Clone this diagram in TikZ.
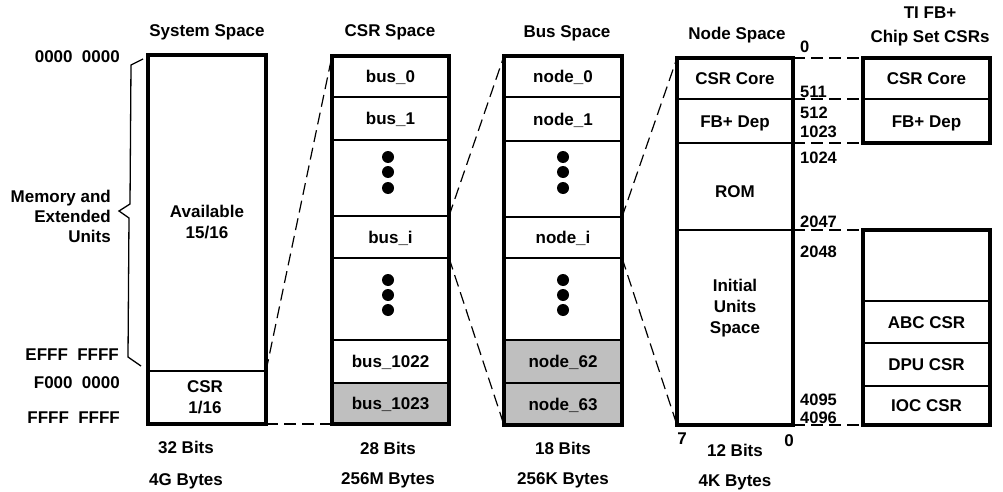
\documentclass[tikz,border=0pt]{standalone}
\usepackage{fontspec}
\setmainfont{Liberation Sans}
\usetikzlibrary{fit}
\newcommand\gap{\hspace{0.55em}}
\begin{document}
\begin{tikzpicture}[x=1pt,y=-1pt,
  lbl/.style={font=\bfseries\fontsize{17}{21}\selectfont, inner sep=0pt, align=center},
  addr/.style={lbl, anchor=east},
  num/.style={font=\bfseries\fontsize{16.5}{19}\selectfont, inner sep=0pt, anchor=west},
  celltxt/.style={font=\bfseries\fontsize{17}{22}\selectfont, inner sep=0pt,
                  text height=12.3pt, text depth=0pt},
  cell/.style={draw, line width=2.4pt, inner sep=0pt, outer sep=0pt},
  shaded/.style={cell, fill=black!25},
  tag/.style={label={[celltxt]center:#1}},
  frame/.style={draw, line width=3.2pt, inner sep=0pt, outer sep=0pt},
  dot/.style={circle, fill, inner sep=0pt, minimum size=12pt},
  link/.style={line width=1.2pt, dash pattern=on 12pt off 6pt},
]
\useasboundingbox (0,0) rectangle (1003,492);

% ---------------- System space ----------------
\node[lbl] (tsys) at (207,32) {System Space};
\node[cell, fit={(148,55) (266,371)}] (avail) {};
\node[lbl] (availtxt) at (207,222) {Available\\15/16};
\node[cell, fit={(148,371) (266,424)}] (syscsr) {};
\node[lbl] (syscsrtxt) at (205,397) {CSR\\1/16};
\node[frame, fit=(avail)(syscsr)] (sysframe) {};

\node[addr] (a0) at (120,57) {0000\gap0000};
\node[addr] (a1) at (119,355) {EFFF\gap FFFF};
\node[addr] (a2) at (120,383) {F000\gap0000};
\node[addr] (a3) at (120,418) {FFFF\gap FFFF};

% brace spanning the memory and extended units range
\coordinate (b1) at (143,59);
\coordinate (b2) at (131,65);
\coordinate (b3) at (130,204);
\coordinate (b4) at (119,211);
\coordinate (b5) at (129,218);
\coordinate (b6) at (128,357);
\coordinate (b7) at (141,366);
\draw[line width=1.3pt, line join=miter] (b1) -- (b2) -- (b3) -- (b4) -- (b5) -- (b6) -- (b7);
\node[lbl, align=right, anchor=east, font=\bfseries\fontsize{17}{20}\selectfont] (memtxt) at (111,216) {Memory and\\Extended\\Units};

\node[lbl] (sbits) at (186,447) {32 Bits};
\node[lbl] (sbytes) at (186,481) {4G Bytes};

% ---------------- CSR space ----------------
\node[lbl] (tcsr) at (390,32) {CSR Space};
\node[cell, tag=bus\_0, fit={(332,56) (449,97)}] (bus0) {};
\node[cell, tag=bus\_1, fit={(332,97) (449,140)}] (bus1) {};
\node[cell, fit={(332,140) (449,216)}] (busd1) {};
\node[cell, tag=bus\_i, fit={(332,216) (449,258)}] (busi) {};
\node[cell, fit={(332,258) (449,340)}] (busd2) {};
\node[cell, tag=bus\_1022, fit={(332,340) (449,383)}] (bus1022) {};
\node[shaded, tag=bus\_1023, fit={(332,383) (449,424)}] (bus1023) {};
\node[frame, fit=(bus0)(bus1023)] (csrframe) {};
\node[dot] (cd1) at (388,157) {};
\node[dot] (cd2) at (388,172) {};
\node[dot] (cd3) at (388,188) {};
\node[dot] (cd4) at (388,280) {};
\node[dot] (cd5) at (388,295) {};
\node[dot] (cd6) at (388,310) {};
\node[lbl] (cbits) at (388,448) {28 Bits};
\node[lbl] (cbytes) at (388,480) {256M Bytes};

% ---------------- Bus space ----------------
\node[lbl] (tbus) at (567,33) {Bus Space};
\node[cell, tag=node\_0, fit={(504,56) (622,97)}] (node0) {};
\node[cell, tag=node\_1, fit={(504,97) (622,141)}] (node1) {};
\node[cell, fit={(504,141) (622,217)}] (noded1) {};
\node[cell, tag=node\_i, fit={(504,217) (622,258)}] (nodei) {};
\node[cell, fit={(504,258) (622,340)}] (noded2) {};
\node[shaded, tag=node\_62, fit={(504,340) (622,383)}] (node62) {};
\node[shaded, tag=node\_63, fit={(504,383) (622,425)}] (node63) {};
\node[frame, fit=(node0)(node63)] (busframe) {};
\node[dot] (bd1) at (563,157) {};
\node[dot] (bd2) at (563,172) {};
\node[dot] (bd3) at (563,188) {};
\node[dot] (bd4) at (563,280) {};
\node[dot] (bd5) at (563,295) {};
\node[dot] (bd6) at (563,310) {};
\node[lbl] (bbits) at (563,448) {18 Bits};
\node[lbl] (bbytes) at (563,480) {256K Bytes};

% ---------------- Node space ----------------
\node[lbl] (tnode) at (737,35) {Node Space};
\node[cell, tag=CSR Core, fit={(677,58) (793,99)}] (core) {};
\node[cell, tag=FB+ Dep, fit={(677,99) (793,143)}] (fbdep) {};
\node[cell, fit={(677,143) (793,230)}] (rom) {};
\node[celltxt] (romtxt) at (735,191) {ROM};
\node[cell, fit={(677,230) (793,425)}] (initial) {};
\node[lbl] (inittxt) at (735,308) {Initial\\Units\\Space};
\node[frame, fit=(core)(initial)] (nodeframe) {};

\node[num] (n0) at (800,47) {0};
\node[num] (n511) at (800,92) {511};
\node[num] (n512) at (800,113) {512};
\node[num] (n1023) at (800,132) {1023};
\node[num] (n1024) at (800,158) {1024};
\node[num] (n2047) at (800,222) {2047};
\node[num] (n2048) at (800,252) {2048};
\node[num] (n4095) at (800,400) {4095};
\node[num] (n4096) at (800,418) {4096};

\node[lbl] (bit7) at (682,439) {7};
\node[lbl] (bit0) at (789,441) {0};
\node[lbl] (nbits) at (735,450) {12 Bits};
\node[lbl] (nbytes) at (735,482) {4K Bytes};

% ---------------- TI FB+ chip set CSRs ----------------
\node[lbl] (tti) at (930,26) {TI FB+\\[3pt]Chip Set CSRs};
\node[cell, tag=CSR Core, fit={(863,58) (990,99)}] (ticore) {};
\node[cell, tag=FB+ Dep, fit={(863,99) (990,143)}] (tidep) {};
\node[frame, fit=(ticore)(tidep)] (tiframe1) {};
\node[cell, fit={(863,230) (990,301)}] (tiblank) {};
\node[cell, tag=ABC CSR, fit={(863,301) (990,343)}] (tiabc) {};
\node[cell, tag=DPU CSR, fit={(863,343) (990,386)}] (tidpu) {};
\node[cell, tag=IOC CSR, fit={(863,386) (990,425)}] (tiioc) {};
\node[frame, fit=(tiblank)(tiioc)] (tiframe2) {};

% ---------------- mapping lines ----------------
\draw[link] (syscsr.north east) -- (bus0.north west);
\draw[link] (syscsr.south east) -- (bus1023.south west);
\draw[link] (busi.north east) -- (node0.north west);
\draw[link] (busi.south east) -- (node63.south west);
\draw[link] (nodei.north east) -- (core.north west);
\draw[link] (nodei.south east) -- (initial.south west);
\draw[link] (core.north east) -- (ticore.north west);
\draw[link] (core.south east) -- (ticore.south west);
\draw[link] (fbdep.south east) -- (tidep.south west);
\draw[link] (rom.south east) -- (tiblank.north west);
\draw[link] (initial.south east) -- (tiioc.south west);
\end{tikzpicture}
\end{document}
